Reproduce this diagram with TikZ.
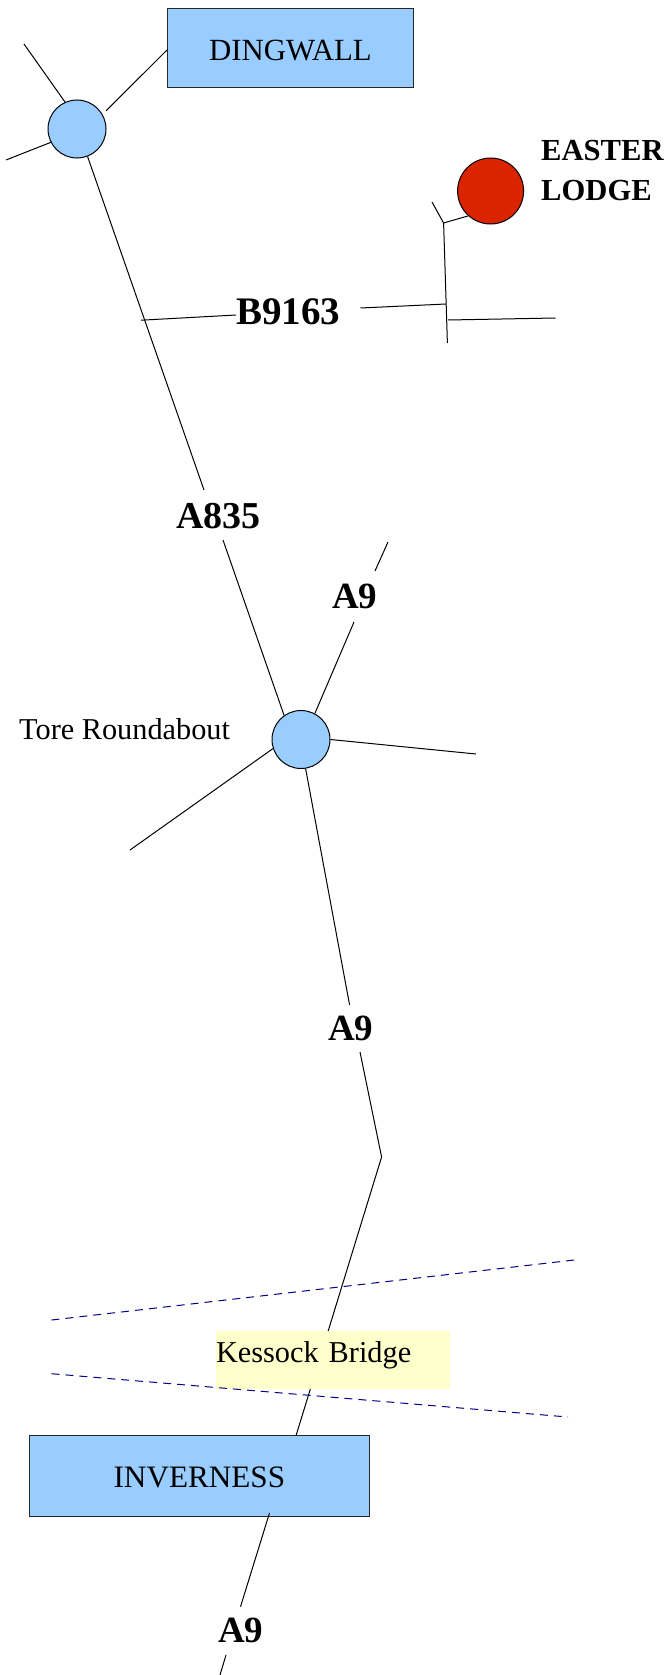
\documentclass[tikz,border=0pt]{standalone}
\usepackage{fontspec}
\setmainfont{Liberation Serif}
\definecolor{townblue}{HTML}{99CCFF}
\definecolor{lodgered}{HTML}{DC2300}
\definecolor{bridgeyellow}{HTML}{FFFFCC}
\definecolor{shoreblue}{HTML}{000080}
\tikzset{
  road/.style={draw=black,line width=1pt},
  shore/.style={draw=shoreblue,line width=1pt,dash pattern=on 8pt off 6pt},
  townbox/.style={draw=black!85,line width=1pt,fill=townblue,rectangle,inner sep=0pt},
  roundabout/.style={draw=black,line width=1pt,fill=townblue,circle,inner sep=0pt,minimum size=58pt},
  roadlabel/.style={anchor=base west,inner sep=0pt,font=\fontsize{38}{44}\selectfont\bfseries},
  placelabel/.style={anchor=base west,inner sep=0pt,font=\fontsize{30.3}{36}\selectfont},
  lodgelabel/.style={anchor=base west,inner sep=0pt,font=\fontsize{30.6}{36}\selectfont\bfseries},
}
\begin{document}
\begin{tikzpicture}[x=1pt,y=-1pt]
\useasboundingbox (0,0) rectangle (666,1675);
% free ends and bends
\coordinate (dnw) at (24,44);
\coordinate (dsw) at (6,160);
\coordinate (a835up) at (204,490);
\coordinate (a835dn) at (223,540);
\coordinate (bw) at (141,320.2);
\coordinate (bwe) at (236,315);
\coordinate (bew) at (360.5,308);
\coordinate (be) at (446,304);
\coordinate (jtop) at (443.6,223);
\coordinate (jbot) at (447.4,343);
\coordinate (jnw) at (432,202);
\coordinate (je) at (448,320);
\coordinate (jee) at (555.5,318);
\coordinate (a9ne) at (388,542);
\coordinate (a9nea) at (375,571);
\coordinate (a9neb) at (354,622);
\coordinate (tore e) at (476,754);
\coordinate (tore w) at (130,850);
\coordinate (a9a) at (349.6,1005);
\coordinate (a9b) at (360,1052);
\coordinate (bend) at (381.6,1157);
\coordinate (invtop) at (296,1435.7);
\coordinate (invbot) at (269.5,1513);
\coordinate (a9c) at (240.5,1606.7);
\coordinate (a9d) at (226,1655);
\coordinate (a9e) at (220,1675);
\coordinate (sh1a) at (51.5,1320);
\coordinate (sh1b) at (577,1259.7);
\coordinate (sh2a) at (51.5,1373.7);
\coordinate (sh2b) at (568,1417);
% nodes
\node[townbox,minimum width=246pt,minimum height=79.5pt,text height=24.9pt,text depth=0pt,font=\fontsize{30.8}{36}\selectfont] (dingwall) at (290.5,48.25) {DINGWALL};
\node[roundabout] (dr) at (77,129) {};
\node[roundabout] (tore) at (301,739.5) {};
\node[draw=black,line width=1pt,fill=lodgered,circle,inner sep=0pt,minimum size=66pt] (lodge) at (490.6,191) {};
\node[townbox,minimum width=340.4pt,minimum height=80.3pt,text height=23.7pt,text depth=0pt,font=\fontsize{31.2}{36}\selectfont] (inverness) at (199.4,1475.85) {INVERNESS};
% roads
\draw[road] (dr.114) -- (dnw);
\draw[road] (dr.207) -- (dsw);
\draw[road,shorten <=5pt] (dr.30) -- ([yshift=-1.8pt]dingwall.west);
\draw[road] (dr.291) -- (a835up);
\draw[road] (a835dn) -- (tore.125);
\draw[road] (bw) -- (bwe);
\draw[road] (bew) -- (be);
\draw[road] (jbot) -- (jtop) -- (jnw);
\draw[road] (jtop) -- (lodge.228);
\draw[road] (je) -- (jee);
\draw[road] (a9ne) -- (a9nea);
\draw[road] (a9neb) -- (tore.62);
\draw[road] (tore.0) -- (tore e);
\draw[road] (tore.198) -- (tore w);
\draw[road] (tore.279) -- (a9a);
\draw[road] (a9b) -- (bend) -- (invtop);
\draw[road] (invbot) -- (a9c);
\draw[road] (a9d) -- (a9e);
% bridge
\node[rectangle,fill=bridgeyellow,inner sep=0pt,minimum height=58.3pt,text width=233.5pt,align=left,font=\fontsize{30.3}{36}\selectfont,text height=23pt,text depth=17.6pt] (bridge) at (332.75,1359.85) {Kessock Bridge};
\draw[shore] (sh1a) -- (sh1b);
\draw[shore] (sh2a) -- (sh2b);
% labels
\node[lodgelabel] (easter) at (541,160.7) {EASTER};
\node[lodgelabel] (lodgetxt) at (541,200.7) {LODGE};
\node[roadlabel,font=\fontsize{39}{44}\selectfont\bfseries] (b9163) at (236,324) {B9163};
\node[roadlabel] (a835) at (176,528) {A835};
\node[roadlabel,font=\fontsize{37}{44}\selectfont\bfseries] (a9top) at (332,608) {A9};
\node[roadlabel,font=\fontsize{37}{44}\selectfont\bfseries] (a9mid) at (328,1040) {A9};
\node[roadlabel,font=\fontsize{37}{44}\selectfont\bfseries] (a9low) at (218,1642.7) {A9};
\node[placelabel] (torelabel) at (19,739) {Tore Roundabout};
\end{tikzpicture}
\end{document}
